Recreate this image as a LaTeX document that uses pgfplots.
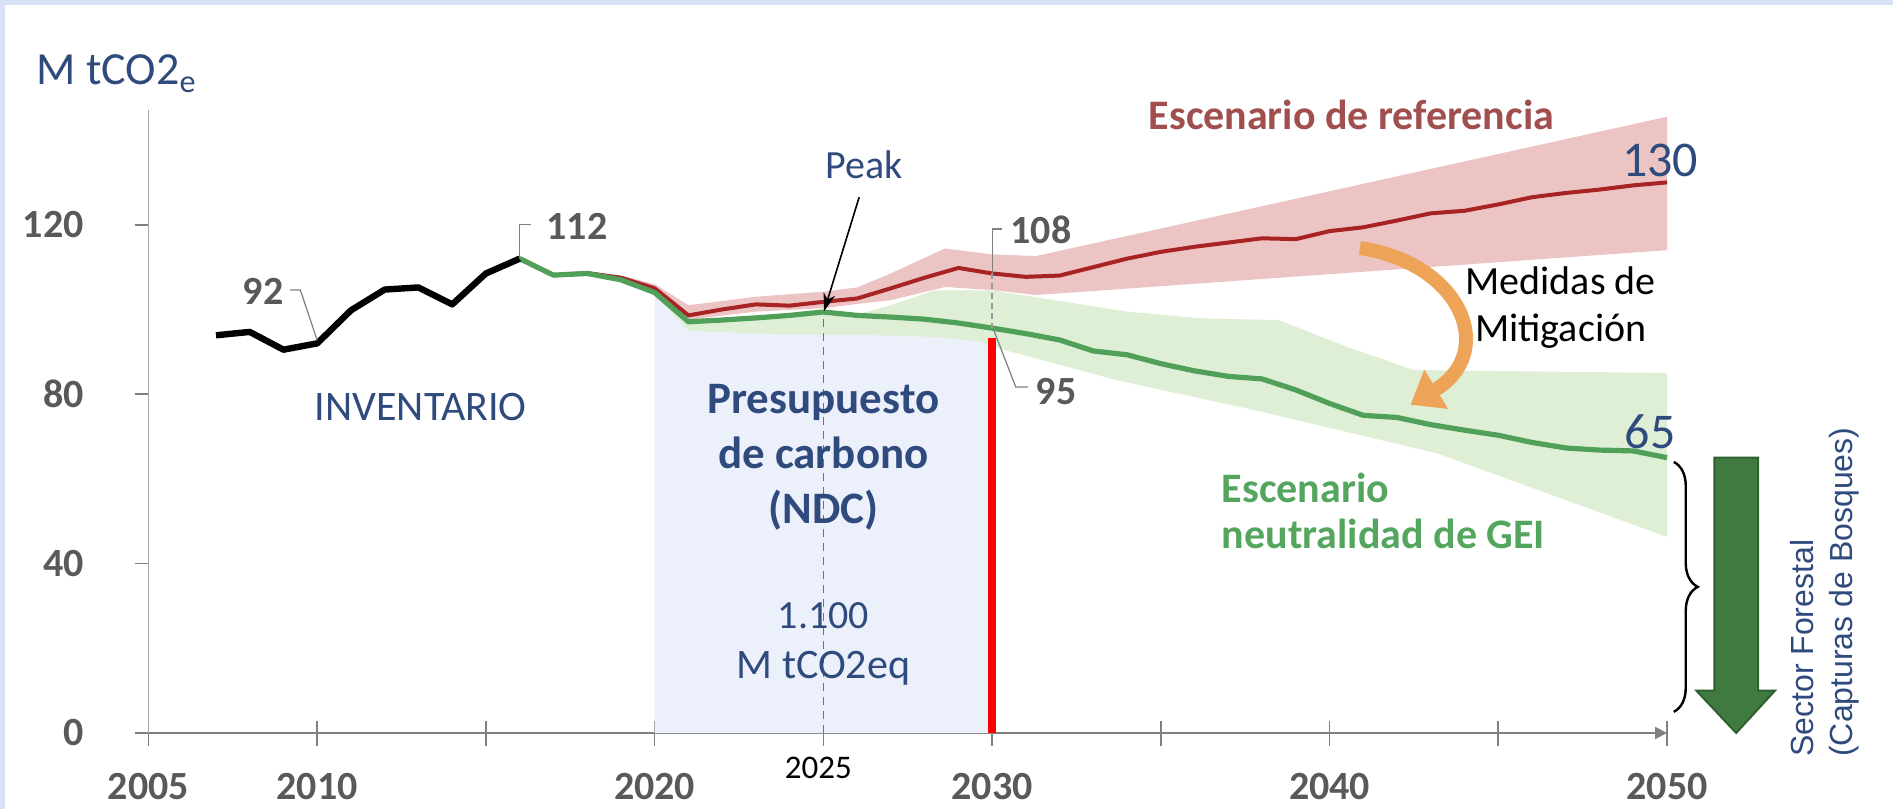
\documentclass[border=0pt]{standalone}
\usepackage{fontspec}
\setmainfont{Carlito}
\newfontfamily\arialf{Liberation Sans}
\usepackage{pgfplots}
\pgfplotsset{compat=1.18}
\usetikzlibrary{arrows.meta,decorations.pathreplacing}

\definecolor{navy}{RGB}{47,74,125}
\definecolor{tickgray}{RGB}{89,89,89}
\definecolor{axisgray}{RGB}{128,128,128}
\definecolor{bgblue}{RGB}{216,226,245}
\definecolor{budget}{RGB}{236,240,250}
\definecolor{refband}{RGB}{236,196,196}
\definecolor{refline}{RGB}{168,36,36}
\definecolor{greenband}{RGB}{222,239,214}
\definecolor{greenline}{RGB}{80,160,90}
\definecolor{reftext}{RGB}{160,78,78}
\definecolor{greentext}{RGB}{84,166,94}
\definecolor{orangearr}{RGB}{238,164,88}
\definecolor{fgreen}{RGB}{64,122,64}
\definecolor{fgreendark}{RGB}{48,96,48}
\definecolor{dashgray}{RGB}{100,115,140}

\newcommand{\fs}[1]{\fontsize{#1}{#1}\selectfont}

\begin{document}
\begin{tikzpicture}
\fill[bgblue] (0,0) rectangle (946.5pt,404.5pt);
\fill[white] (2.5pt,0) rectangle (946.5pt,402pt);
\begin{axis}[
  at={(74.25pt,38pt)}, anchor=south west,
  scale only axis, width=759.25pt, height=311.3pt,
  xmin=2005, xmax=2050, ymin=0, ymax=147,
  clip=false,
  axis x line*=bottom, axis y line*=left,
  x axis line style={draw=axisgray, line width=1.2pt, -{Triangle[length=6pt,width=6pt]}},
  y axis line style={draw=axisgray!70, line width=0.8pt},
  xtick={2005,2010,...,2050},
  xticklabels={2005,2010,,2020,,2030,,2040,,2050},
  ytick={0,40,80,120},
  yticklabels={0,40,80,120},
  xtick align=center, ytick align=outside,
  major tick length=12.5pt,
  tick style={draw=axisgray, line width=0.8pt},
  ytick style={/pgfplots/major tick length=7pt},
  xticklabel style={font=\bfseries\fs{20}, text=tickgray, anchor=base, inner sep=0pt, yshift=-27pt},
  yticklabel style={font=\bfseries\fs{20}, text=tickgray, anchor=east, inner sep=0pt, xshift=-19.7pt},
]
% carbon budget area
\addplot[fill=budget, draw=none] coordinates {(2020,104)(2021,97.1)(2022,97.5)(2023,98)(2024,98.6)(2025,99.4)(2026,98.6)(2027,98.2)(2028,97.7)(2029,96.8)(2030,95.6)} \closedcycle;
% reference band
\addplot[fill=refband, draw=none] coordinates {(2019,108)(2020,106)(2021,101)(2023,103)(2025,104.2)(2026,105.2)(2027,108.5)(2028.6,114.4)(2030,113)(2031.3,112.6)(2050,145.5)
 (2050,114)(2031.3,103.4)(2030,104.6)(2028.6,105.3)(2027,102.2)(2026,101.3)(2025,100.3)(2023,99.5)(2021,97.6)(2020,104.3)(2019,107)} -- cycle;
% neutrality band
\addplot[fill=greenband, draw=none] coordinates {(2020,104)(2021,97.1)(2022,97.5)(2023,98)(2024,98.6)(2025,99.4)(2026,98.8)(2027,101)(2028.3,104.5)(2030,104.5)(2032,102)(2034,99.5)(2036.2,97.9)(2038.5,97.5)(2040.5,91.2)(2042.5,85.7)(2050,85)
 (2050,46.3)(2043.2,66)(2037.8,76.2)(2033.7,83.3)(2030.2,90.8)(2029.6,92.5)(2028.3,93.5)(2026.3,94)(2025,94)(2023,94.3)(2021,95)(2020,103.5)} -- cycle;
% reference line
\addplot[refline, line width=2pt, line join=round] coordinates {(2016,112)(2017,108.1)(2018,108.6)(2019,107.5)(2020,105)(2021,98.6)(2022,100)(2023,101.2)(2024,100.9)(2025,101.8)(2026,102.6)(2027,105)(2028,107.5)(2029,109.8)(2030,108.5)(2031,107.7)(2032,108)(2033,110)(2034,112)(2035,113.6)(2036,114.8)(2037,115.8)(2038,116.8)(2039,116.6)(2040,118.5)(2041,119.4)(2042,121)(2043,122.7)(2044,123.3)(2045,124.8)(2046,126.5)(2047,127.5)(2048,128.3)(2049,129.3)(2050,130)};
% neutrality line
\addplot[greenline, line width=2.6pt, line join=round] coordinates {(2015,108.5)(2016,112)(2017,108.1)(2018,108.5)(2019,107)(2020,104)(2021,97.1)(2022,97.5)(2023,98)(2024,98.6)(2025,99.4)(2026,98.6)(2027,98.2)(2028,97.7)(2029,96.8)(2030,95.6)(2031,94.3)(2032,92.8)(2033,90.2)(2034,89.3)(2035,87.2)(2036,85.5)(2037,84.2)(2038,83.6)(2039,81)(2040,77.8)(2041,75)(2042,74.5)(2043,72.8)(2044,71.5)(2045,70.3)(2046,68.6)(2047,67.3)(2048,66.8)(2049,66.6)(2050,65)};
% inventory
\addplot[black, line width=3.2pt, line join=round] coordinates {(2007,93.9)(2008,94.7)(2009,90.5)(2010,92)(2011,99.8)(2012,104.7)(2013,105.2)(2014,101.2)(2015,108.5)(2016,112)};
% 2030 red bar
\addplot[red, line width=4pt] coordinates {(2030,0)(2030,93.2)};
% dashed guides
\draw[dashgray, line width=0.8pt, dash pattern=on 4pt off 3pt] (axis cs:2025,0) -- (axis cs:2025,99.4);
\draw[axisgray!80, line width=0.7pt, dash pattern=on 3pt off 2pt] (axis cs:2030,108.5) -- (axis cs:2030,95.6);
% leaders and value labels
\draw[axisgray, line width=0.6pt] (axis cs:2010,92.7) -- (axis cs:2009.5,104.6) -- (axis cs:2009.2,104.6);
\draw[axisgray, line width=0.6pt] (axis cs:2016,112) -- (axis cs:2016,120) -- (axis cs:2016.34,120);
\draw[axisgray, line width=0.6pt] (axis cs:2030,108.5) -- (axis cs:2030,119) -- (axis cs:2030.3,119);
\draw[axisgray, line width=0.6pt] (axis cs:2030.05,95.1) -- (axis cs:2030.7,81.7) -- (axis cs:2031.07,81.7);
\begin{scope}[every node/.style={inner sep=0pt, anchor=base}]
\node[font=\bfseries\fs{20}, text=tickgray] at (axis cs:2008.4,101.2) {92};
\node[font=\bfseries\fs{20}, text=tickgray] at (axis cs:2017.7,116.5) {112};
\node[font=\bfseries\fs{20}, text=tickgray] at (axis cs:2031.45,115.6) {108};
\node[font=\bfseries\fs{20}, text=tickgray] at (axis cs:2031.9,77.5) {95};
\node[font=\fs{16.5}, text=black] at (axis cs:2024.85,-10.8) {2025};
\node[anchor=base west, font=\fs{23}, text=navy] at (axis cs:2001.67,153) {M tCO2\textsubscript{e}};
\node[font=\fs{21}, text=navy] at (axis cs:2013.07,73.9) {INVENTARIO};
\node[font=\bfseries\fs{22.5}, text=navy] at (axis cs:2025,75.5) {Presupuesto};
\node[font=\bfseries\fs{22.5}, text=navy] at (axis cs:2025,62.5) {de carbono};
\node[font=\bfseries\fs{22.5}, text=navy] at (axis cs:2025,49.5) {(NDC)};
\node[font=\fs{20}, text=navy] at (axis cs:2025,24.7) {1.100};
\node[font=\fs{21}, text=navy] at (axis cs:2025,12.9) {M tCO2eq};
\node[font=\fs{20}, text=navy] at (axis cs:2026.2,131) {Peak};
\node[font=\bfseries\fs{21}, text=reftext] at (axis cs:2040.65,142.4) {Escenario de referencia};
\node[font=\fs{25}, text=navy] at (axis cs:2049.8,131.4) {130};
\node[font=\fs{20}, text=black] at (axis cs:2046.85,103.5) {Medidas de};
\node[font=\fs{20}, text=black] at (axis cs:2046.85,92.5) {Mitigación};
\node[font=\fs{25}, text=navy] at (axis cs:2049.5,67.2) {65};
\node[anchor=base west, font=\bfseries\fs{21}, text=greentext] at (axis cs:2036.8,54.4) {Escenario};
\node[anchor=base west, font=\bfseries\fs{21}, text=greentext] at (axis cs:2036.8,43.5) {neutralidad de GEI};
\end{scope}
% peak arrow
\draw[-{Stealth[length=9pt,width=6pt]}, line width=0.8pt] (axis cs:2026.06,126.5) -- (axis cs:2025.02,99.6);
% mitigation arrow
\draw[orangearr, line width=7pt, -{Triangle[length=15pt,width=22pt]}] (axis cs:2040.9,114.5) .. controls (axis cs:2043.9,111) and (axis cs:2045.0,90) .. (axis cs:2042.4,77.5);
% brace
\draw[decorate, decoration={brace, amplitude=12pt}, line width=1.2pt] (axis cs:2050.2,64) -- (axis cs:2050.2,5);
% forest arrow
\fill[fgreen, draw=fgreendark, line width=1pt] (axis cs:2051.4,65) -- (axis cs:2052.7,65) -- (axis cs:2052.7,10) -- (axis cs:2053.2,10) -- (axis cs:2052.05,0) -- (axis cs:2050.87,10) -- (axis cs:2051.4,10) -- cycle;
\node[rotate=90, anchor=west, inner sep=0pt, font=\arialf\fs{16}, text=navy] at (axis cs:2054.0,-5.7) {Sector Forestal};
\node[rotate=90, anchor=west, inner sep=0pt, font=\arialf\fs{16}, text=navy] at (axis cs:2055.25,-5.7) {(Capturas de Bosques)};
\end{axis}
\pgfresetboundingbox
\path (0,0) rectangle (946.5pt,404.5pt);
\end{tikzpicture}
\end{document}
